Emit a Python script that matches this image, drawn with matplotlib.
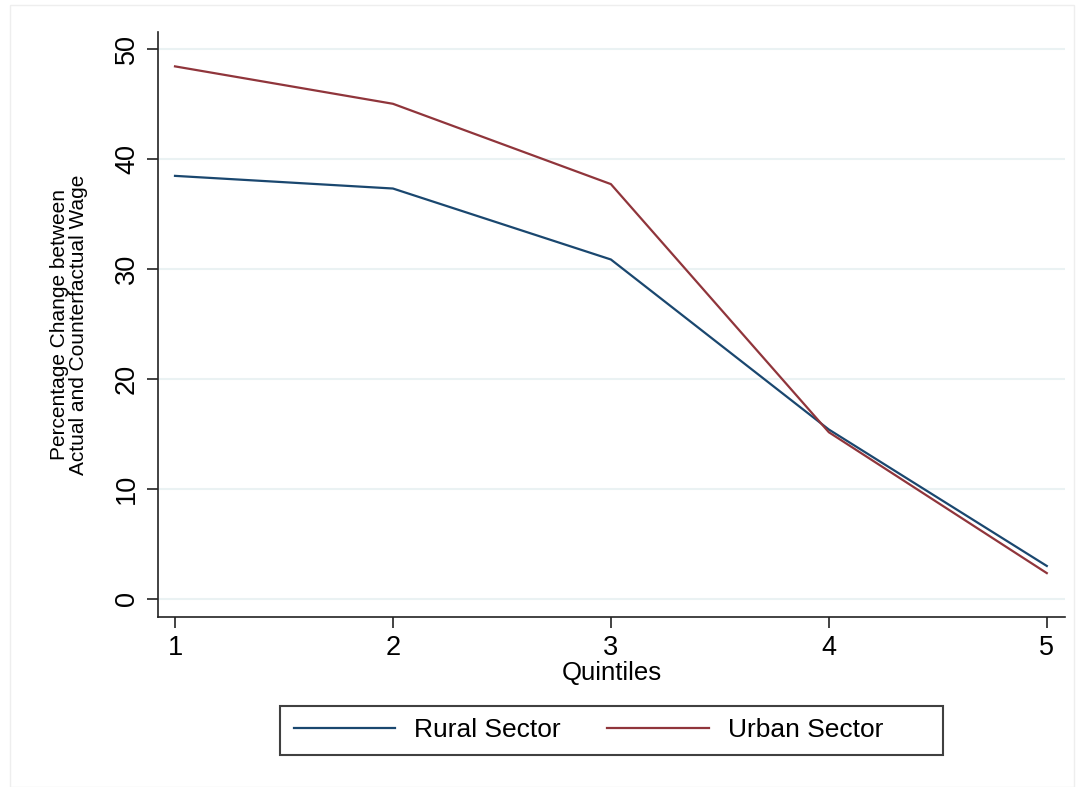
import matplotlib.pyplot as plt
from matplotlib.patches import Rectangle

plt.rcParams['font.family'] = ['Liberation Sans', 'DejaVu Sans']

# data
quintiles = [1, 2, 3, 4, 5]
rural = [38.45, 37.3, 30.85, 15.4, 3.0]
urban = [48.4, 45.0, 37.7, 15.15, 2.35]
yticks = [0, 10, 20, 30, 40, 50]

rural_col = '#1a476f'
urban_col = '#90353b'

fig = plt.figure(figsize=(10.8, 7.87), dpi=100)
# faint outer frame of the graph region
fig.patches.append(Rectangle((0.009, 0.0), 0.985, 0.994, transform=fig.transFigure,
                             fill=False, edgecolor='#eeeeee', linewidth=1))
# legend box (Stata style, wider on the right)
fig.patches.append(Rectangle((280 / 1080, 1 - 755 / 787), 663 / 1080, 49 / 787,
                             transform=fig.transFigure, fill=False,
                             edgecolor='#404040', linewidth=1.5))

ax = fig.add_axes([0.1463, 0.216, 0.8397, 0.743])
ax.plot(quintiles, rural, color=rural_col, linewidth=1.6, label='Rural Sector')
ax.plot(quintiles, urban, color=urban_col, linewidth=1.6, label='Urban Sector')

ax.set_xlim(0.922, 5.083)
ax.set_ylim(-1.64, 51.5)
ax.set_xticks(quintiles)
ax.set_yticks(yticks)
for y in yticks:
    ax.axhline(y, color='#eaf2f3', linewidth=1.5, zorder=0)

for s in ['top', 'right']:
    ax.spines[s].set_visible(False)
for s in ['left', 'bottom']:
    ax.spines[s].set_color('#222222')
    ax.spines[s].set_linewidth(1.2)
ax.tick_params(axis='both', direction='out', length=8, width=1.2, color='#222222',
               labelsize=19.5, pad=5)
for lab in ax.get_yticklabels():
    lab.set_rotation(90)
    lab.set_va('center')

ax.set_xlabel('Quintiles', fontsize=18.5, labelpad=0)
ax.set_ylabel('Percentage Change between\nActual and Counterfactual Wage',
              fontsize=15, linespacing=0.95, labelpad=19)

leg = ax.legend(loc='center', bbox_to_anchor=(0.5449, 0.0718), bbox_transform=fig.transFigure,
                ncol=2, frameon=False, fontsize=19, handlelength=3.85,
                handletextpad=0.72, columnspacing=1.75, borderpad=0.4, borderaxespad=0)

fig.savefig('out.png', dpi=100)
